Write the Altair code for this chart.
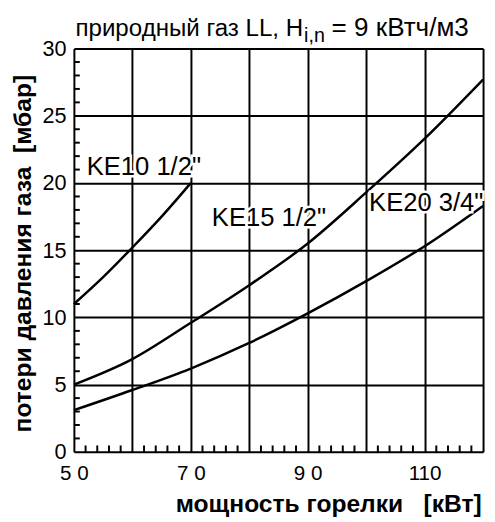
import altair as alt
import pandas as pd

# ---- texts ----
title_main = "природный газ LL, H"
title_sub = "i,n"
title_rest = "= 9 кВтч/м3"
x_title = "мощность горелки \u00a0 [кВт]"
y_title = "потери давления газа \u00a0[мбар]"

# ---- axes ----
x_ticks = [50, 60, 70, 80, 90, 100, 110, 120]
x_tick_labels = {50: "5 0", 70: "7 0", 90: "9 0", 110: "110"}
y_ticks = [0, 5, 10, 15, 20, 25, 30]
x_minor = [52, 54, 56, 58, 62, 64, 66, 68, 72, 74, 76, 78, 82, 84, 86, 88,
           92, 94, 96, 98, 102, 104, 106, 108, 112, 114, 116, 118]
y_minor = [1, 2, 3, 4, 6, 7, 8, 9, 11, 12, 13, 14, 16, 17, 18, 19,
           21, 22, 23, 24, 26, 27, 28, 29]

# ---- series ----
ke10_power = [50, 55, 60, 65, 70]
ke10_loss = [11.0, 13.0, 15.2, 17.5, 20.0]
power = [50, 60, 70, 80, 90, 100, 110, 120]
ke15_loss = [5.0, 6.9, 9.6, 12.4, 15.5, 19.3, 23.3, 27.7]
ke20_loss = [3.1, 4.6, 6.2, 8.1, 10.3, 12.7, 15.3, 18.3]

# ---- curve labels ----
label_text = ['KE10 1/2"', 'KE15 1/2"', 'KE20 3/4"']
label_x = [52.2, 73.6, 100.5]
label_y = [21.2, 17.4, 18.5]

FONT = "Liberation Sans"

rows = []
for p, l in zip(ke10_power, ke10_loss):
    rows.append({"series": "KE10", "power": p, "loss": l})
for p, l in zip(power, ke15_loss):
    rows.append({"series": "KE15", "power": p, "loss": l})
for p, l in zip(power, ke20_loss):
    rows.append({"series": "KE20", "power": p, "loss": l})
curves = pd.DataFrame(rows)

label_expr = " : ".join(
    f"datum.value == {k} ? '{v}'" for k, v in x_tick_labels.items()
) + " : ''"

x_scale = alt.Scale(domain=[50, 120], nice=False, zero=False)
y_scale = alt.Scale(domain=[0, 30], nice=False, zero=True)

x_axis = alt.Axis(
    values=x_ticks, grid=True, gridColor="black", gridWidth=2, gridOpacity=1,
    domain=False, ticks=False, labelExpr=label_expr, labelFlush=False,
    labelFontSize=21, labelColor="black", labelFont=FONT, labelPadding=11,
    title=x_title, titleFont=FONT, titleFontSize=25, titleFontWeight="bold",
    titleColor="black", titleAlign="left", titleX=103, titleY=61,
    titleBaseline="alphabetic",
)
y_axis = alt.Axis(
    values=y_ticks, grid=True, gridColor="black", gridWidth=2, gridOpacity=1,
    domain=False, ticks=False, labelFontSize=22, labelColor="black",
    labelFont=FONT, labelPadding=8, labelFlush=False,
    title=y_title, titleFont=FONT, titleFontSize=25, titleFontWeight="bold",
    titleColor="black", titleAngle=-90, titleAlign="center",
    titleBaseline="middle", titleX=-52, titleY=208,
)

lines = alt.Chart(curves).mark_line(
    color="black", strokeWidth=2.5, interpolate="monotone"
).encode(
    x=alt.X("power:Q", scale=x_scale, axis=x_axis),
    y=alt.Y("loss:Q", scale=y_scale, axis=y_axis),
    detail="series:N",
)

xm = pd.DataFrame({"v": x_minor, "y0": [0] * len(x_minor)})
x_minor_ticks = alt.Chart(xm).mark_tick(
    color="black", thickness=2, size=7, orient="vertical", opacity=1
).encode(
    x=alt.X("v:Q", scale=x_scale), y=alt.Y("y0:Q", scale=y_scale),
    yOffset=alt.value(-3)
)
ym = pd.DataFrame({"v": y_minor, "x0": [50] * len(y_minor)})
y_minor_ticks = alt.Chart(ym).mark_tick(
    color="black", thickness=2, size=6, orient="horizontal", opacity=1
).encode(
    y=alt.Y("v:Q", scale=y_scale), x=alt.X("x0:Q", scale=x_scale),
    xOffset=alt.value(3)
)

labels = pd.DataFrame({"t": label_text, "x": label_x, "y": label_y})
label_halo = alt.Chart(labels).mark_text(
    align="left", baseline="middle", font=FONT, fontSize=26,
    stroke="white", strokeWidth=5, color="white",
).encode(x=alt.X("x:Q", scale=x_scale), y=alt.Y("y:Q", scale=y_scale), text="t:N")
label_txt = alt.Chart(labels).mark_text(
    align="left", baseline="middle", font=FONT, fontSize=26, color="black",
).encode(x=alt.X("x:Q", scale=x_scale), y=alt.Y("y:Q", scale=y_scale), text="t:N")

t1 = alt.Chart(pd.DataFrame({"t": [title_main]})).mark_text(
    align="right", baseline="alphabetic", font=FONT, fontSize=24.5, color="black"
).encode(text="t:N", x=alt.value(233), y=alt.value(-13))
t2 = alt.Chart(pd.DataFrame({"t": [title_sub]})).mark_text(
    align="left", baseline="alphabetic", font=FONT, fontSize=20, color="black"
).encode(text="t:N", x=alt.value(234), y=alt.value(-7))
t3 = alt.Chart(pd.DataFrame({"t": [title_rest]})).mark_text(
    align="left", baseline="alphabetic", font=FONT, fontSize=26.5, color="black"
).encode(text="t:N", x=alt.value(262), y=alt.value(-13))

chart = alt.layer(
    lines, x_minor_ticks, y_minor_ticks, label_halo, label_txt, t1, t2, t3
).properties(
    width=416, height=410, autosize="none",
    padding={"left": 67, "top": 37, "right": 4, "bottom": 65},
).configure_view(stroke="black", strokeWidth=2).configure(background="white")

chart.save("out.html", embed_options={"renderer": "svg", "actions": False})
